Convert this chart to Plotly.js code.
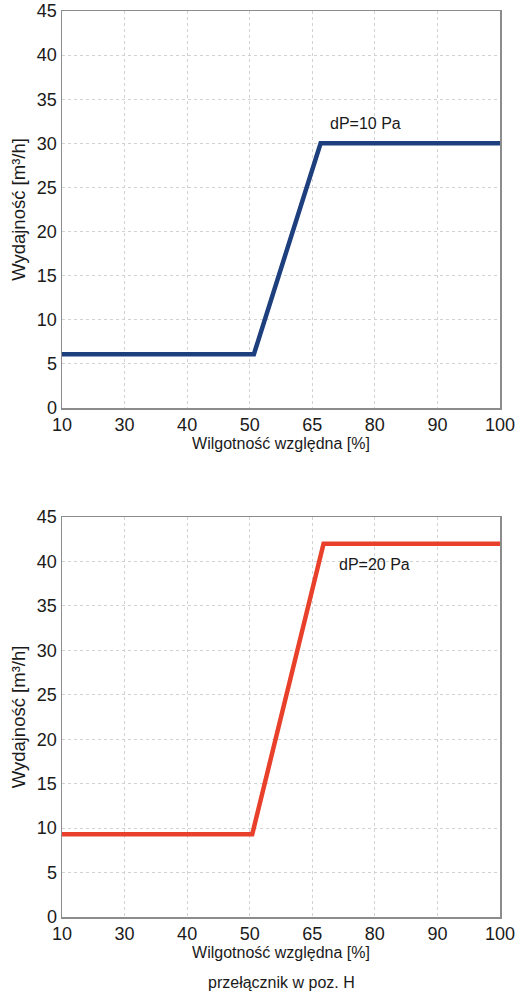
<!DOCTYPE html>
<html>
<head>
<meta charset="utf-8">
<script src="https://cdn.plot.ly/plotly-3.0.1.min.js"></script>
<style>
html,body{margin:0;padding:0;background:#fff;}
#chart{width:525px;height:1000px;}
</style>
</head>
<body>
<div id="chart"></div>
<script>
// Tick labels of the humidity axis (evenly spaced on the chart)
const xTickLabels = [10, 30, 40, 50, 65, 80, 90, 100];
const yTicks = [0, 5, 10, 15, 20, 25, 30, 35, 40, 45];

// Series 1: dP=10 Pa
const humidity10 = [10, 51, 67, 100];
const flow10 = [6.1, 6.1, 30, 30];
// Series 2: dP=20 Pa
const humidity20 = [10, 50.6, 67.7, 100];
const flow20 = [9.3, 9.3, 42, 42];

const labels = ["dP=10 Pa", "dP=20 Pa"];
const labelHumidity = [68.8, 71];
const labelFlow = [32.2, 39.7];

// Axis scale: piecewise-linear between the evenly spaced tick labels
function toPos(v){
  for(let i=0;i<xTickLabels.length-1;i++){
    const a=xTickLabels[i], b=xTickLabels[i+1];
    if(v<=b || i===xTickLabels.length-2){
      return i + (v-a)/(b-a);
    }
  }
}
const tickPos = xTickLabels.map(toPos);

const font = "Liberation Sans, Arial, sans-serif";
const txt = '#1a1a1a';

function xaxis(anchor){
  return {
    range:[0, 7],
    tickvals: tickPos,
    ticktext: xTickLabels.map(String),
    showgrid:true, gridcolor:'#d2d2d2', griddash:'dot', gridwidth:1,
    zeroline:false,
    showline:true, linecolor:'#8c8c8c', linewidth:1.5, mirror:true,
    ticks:'', ticklabeloverflow:'allow', tickfont:{size:18, color:txt, family:font},
    title:{text:'Wilgotność względna [%]', font:{size:16, color:txt, family:font}, standoff:2},
    fixedrange:true, anchor:anchor
  };
}
function yaxis(domain, anchor){
  return {
    domain: domain,
    range:[0,45],
    tickvals: yTicks,
    showgrid:true, gridcolor:'#d2d2d2', griddash:'dot', gridwidth:1,
    zeroline:false,
    showline:true, linecolor:'#8c8c8c', linewidth:1.5, mirror:true,
    ticks:'', ticklabeloverflow:'allow', tickfont:{size:18, color:txt, family:font},
    title:{text:'Wydajność [m³/h]', font:{size:18.5, color:txt, family:font}, standoff:6},
    fixedrange:true, anchor:anchor
  };
}

const traces = [
  {x: humidity10.map(toPos), y: flow10, mode:'lines', line:{color:'#1e3f7e', width:4.5}, xaxis:'x', yaxis:'y', hoverinfo:'skip', cliponaxis:false},
  {x: humidity20.map(toPos), y: flow20, mode:'lines', line:{color:'#e8402a', width:4.5}, xaxis:'x2', yaxis:'y2', hoverinfo:'skip', cliponaxis:false}
];

const layout = {
  width:525, height:1000,
  margin:{l:62, r:25, t:0, b:0},
  paper_bgcolor:'#fff', plot_bgcolor:'#fff',
  showlegend:false,
  xaxis: xaxis('y'),
  yaxis: yaxis([0.592, 0.989], 'x'),
  xaxis2: xaxis('y2'),
  yaxis2: yaxis([0.083, 0.483], 'x2'),
  annotations:[
    {text:labels[0], x:toPos(labelHumidity[0]), y:labelFlow[0], xref:'x', yref:'y', xanchor:'left', yanchor:'middle', showarrow:false, font:{size:16, color:txt, family:font}},
    {text:labels[1], x:toPos(labelHumidity[1]), y:labelFlow[1], xref:'x2', yref:'y2', xanchor:'left', yanchor:'middle', showarrow:false, font:{size:16, color:txt, family:font}},
    {text:'przełącznik w poz. H', x:0.5, y:0.018, xref:'paper', yref:'paper', xanchor:'center', yanchor:'middle', showarrow:false, font:{size:16, color:txt, family:font}}
  ]
};

Plotly.newPlot('chart', traces, layout, {displayModeBar:false, staticPlot:true});
</script>
</body>
</html>
